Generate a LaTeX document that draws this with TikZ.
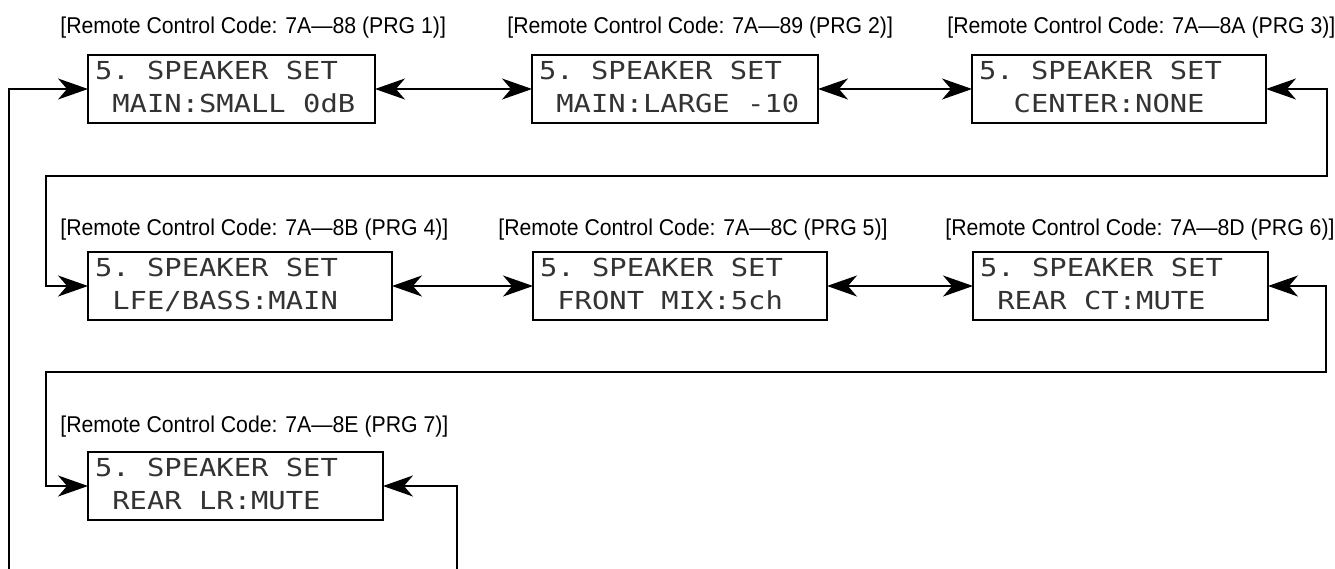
\documentclass[tikz,border=0pt]{standalone}
\usepackage{fontspec}
\usepackage{graphicx}
\usetikzlibrary{arrows.meta}
\newfontfamily\lcdfont{DejaVu Sans Mono}
\newfontfamily\lblfont{Liberation Sans}
\newcommand\lcd[2]{\scalebox{1}[0.86]{\lcdfont\fontsize{16.4}{22}\selectfont\frenchspacing\spaceskip=0.602em\relax\xspaceskip=0.602em\relax\begin{tabular}{@{}l@{}}#1\\#2\end{tabular}}}
\newcommand\lbltext[1]{\scalebox{0.93}[1]{#1}}
\begin{document}
\begin{tikzpicture}[x=0.02cm,y=-0.02cm,
  lcdbox/.style={draw, line width=0.8pt, inner xsep=0.14cm, inner ysep=0pt,
    outer sep=0pt, minimum height=1.36cm, align=left, text width=#1, text=black!80},
  lbl/.style={anchor=base west, inner sep=0pt, font=\lblfont\fontsize{13}{15}\selectfont},
  conn/.style={line width=0.8pt,
    {Stealth[length=0.6cm,width=0.42cm,inset=0.18cm]}-{Stealth[length=0.6cm,width=0.42cm,inset=0.18cm]}}]
\useasboundingbox (0,0) rectangle (1335,568);
\clip (0,0) rectangle (1335,568);

% labels
\node[lbl] (l1) at (60,33)  {\lbltext{[Remote Control Code: 7A—88 (PRG 1)]}};
\node[lbl] (l2) at (507,33) {\lbltext{[Remote Control Code: 7A—89 (PRG 2)]}};
\node[lbl] (l3) at (947,33) {\lbltext{[Remote Control Code: 7A—8A (PRG 3)]}};
\node[lbl] (l4) at (60,235)  {\lbltext{[Remote Control Code: 7A—8B (PRG 4)]}};
\node[lbl] (l5) at (498,235) {\lbltext{[Remote Control Code: 7A—8C (PRG 5)]}};
\node[lbl] (l6) at (945,235) {\lbltext{[Remote Control Code: 7A—8D (PRG 6)]}};
\node[lbl] (l7) at (60,432)  {\lbltext{[Remote Control Code: 7A—8E (PRG 7)]}};

% boxes
\node[lcdbox=5.46cm] (b1) at (231.5,89) {\lcd{5. SPEAKER SET}{\ MAIN:SMALL 0dB}};
\node[lcdbox=5.44cm] (b2) at (675,89)   {\lcd{5. SPEAKER SET}{\ MAIN:LARGE -10}};
\node[lcdbox=5.60cm] (b3) at (1119,89)  {\lcd{5. SPEAKER SET}{\ \ CENTER:NONE}};
\node[lcdbox=5.80cm] (b4) at (240,286)  {\lcd{5. SPEAKER SET}{\ LFE/BASS:MAIN}};
\node[lcdbox=5.60cm] (b5) at (680,286)  {\lcd{5. SPEAKER SET}{\ FRONT MIX:5ch}};
\node[lcdbox=5.62cm] (b6) at (1120.5,286) {\lcd{5. SPEAKER SET}{\ REAR CT:MUTE}};
\node[lcdbox=5.62cm] (b7) at (235.5,486) {\lcd{5. SPEAKER SET}{\ REAR LR:MUTE}};

% bend points
\coordinate (c1) at (1327,176);
\coordinate (c2) at (46,286);
\coordinate (c3) at (1326,372);
\coordinate (c4) at (46,486);
\coordinate (c5) at (457,580);
\coordinate (c6) at (9,89);

% connectors
\draw[conn] (b1.east) -- (b2.west);
\draw[conn] (b2.east) -- (b3.west);
\draw[conn] (b3.east) -| (c1) -| (c2) -- (b4.west);
\draw[conn] (b4.east) -- (b5.west);
\draw[conn] (b5.east) -- (b6.west);
\draw[conn] (b6.east) -| (c3) -| (c4) -- (b7.west);
\draw[conn] (b7.east) -| (c5) -| (c6) -- (b1.west);
\end{tikzpicture}
\end{document}
